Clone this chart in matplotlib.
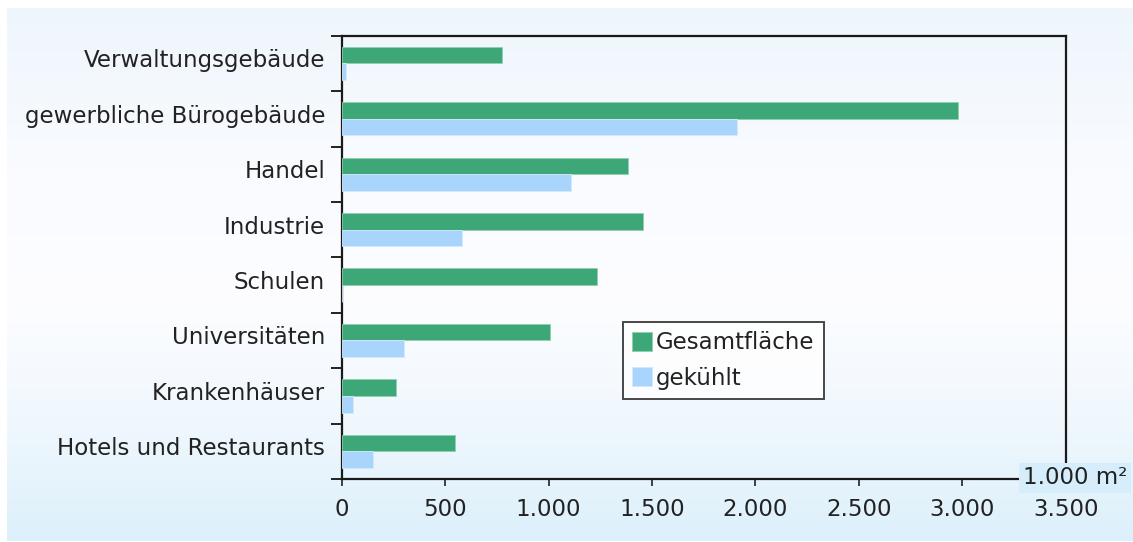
import numpy as np
import matplotlib
matplotlib.use("Agg")
import matplotlib.pyplot as plt
import matplotlib.transforms as mtransforms
from matplotlib.colors import LinearSegmentedColormap

# Building categories and floor areas (in 1.000 m²)
categories = [
    "Verwaltungsgebäude",
    "gewerbliche Bürogebäude",
    "Handel",
    "Industrie",
    "Schulen",
    "Universitäten",
    "Krankenhäuser",
    "Hotels und Restaurants",
]
gesamtflaeche = [773, 2980, 1382, 1458, 1233, 1007, 262, 546]
gekuehlt = [19, 1910, 1107, 580, 0, 303, 53, 153]
series_labels = ["Gesamtfläche", "gekühlt"]
x_ticks = [0, 500, 1000, 1500, 2000, 2500, 3000, 3500]
x_tick_labels = ["0", "500", "1.000", "1.500", "2.000", "2.500", "3.000", "3.500"]
unit_label = "1.000 m²"

GREEN = "#3ea777"
BLUE = "#a9d5fd"
TEXT = "#222222"
FONT = "DejaVu Sans"
FS = 16.5

plt.rcParams["font.family"] = FONT

W, H = 1133, 542
fig = plt.figure(figsize=(W / 100, H / 100), dpi=100)
fig.patch.set_facecolor("white")

# soft vertical gradient panel behind the chart
bg = fig.add_axes([7 / W, 1 / H, (W - 7) / W, (H - 9) / H], zorder=-5)
cmap = LinearSegmentedColormap.from_list(
    "panel",
    [(0.0, "#eef6fc"), (0.3, "#f9fbff"), (0.55, "#fdfdff"), (0.8, "#eef7fd"), (1.0, "#dcf0fb")],
)
grad = np.linspace(0, 1, 256).reshape(-1, 1)
bg.imshow(grad, aspect="auto", cmap=cmap, extent=[0, 1, 1, 0])
bg.set_xlim(0, 1)
bg.set_ylim(1, 0)
bg.axis("off")

left_px, right_px, top_px, bottom_px = 341.7, 1065.7, 35.7, 479.0
ax = fig.add_axes([left_px / W, 1 - bottom_px / H, (right_px - left_px) / W, (bottom_px - top_px) / H])
ax.set_facecolor("none")

y = np.arange(len(categories))
bh = 0.3
ax.barh(y - bh / 2, gesamtflaeche, height=bh, color=GREEN, edgecolor="#8fd0ae",
        linewidth=0.6, label=series_labels[0], zorder=3)
ax.barh(y + bh / 2, gekuehlt, height=bh, color=BLUE, edgecolor="#d2e9fe",
        linewidth=0.6, label=series_labels[1], zorder=3)

ax.set_xlim(0, 3500)
ax.set_ylim(len(categories) - 0.5, -0.5)

ax.set_xticks(x_ticks)
ax.set_xticklabels(x_tick_labels)
ax.set_yticks(y)
ax.set_yticklabels(categories)
ax.set_yticks(np.arange(-0.5, len(categories)), minor=True)

ax.tick_params(axis="x", direction="out", length=5, width=1.2, color=TEXT,
               labelsize=FS, labelcolor=TEXT, pad=9)
ax.tick_params(axis="y", which="major", length=0, labelsize=FS, labelcolor=TEXT, pad=12)
ax.tick_params(axis="y", which="minor", direction="out", length=8, width=1.4, color=TEXT)

# category labels sit slightly above the centre of each bar pair
lift = mtransforms.ScaledTranslation(0, 5 / 100, fig.dpi_scale_trans)
for lbl in ax.get_yticklabels():
    lbl.set_transform(lbl.get_transform() + lift)

for side in ["left", "top", "bottom", "right"]:
    ax.spines[side].set_color("#1a1a1a")
    ax.spines[side].set_linewidth(1.6)

leg = ax.legend(loc="upper left", bbox_to_anchor=((623 - left_px) / (right_px - left_px),
                                                   1 - (322 - top_px) / (bottom_px - top_px)),
                frameon=True, fancybox=False, fontsize=FS, handlelength=0.85,
                handleheight=0.9, handletextpad=0.2, borderpad=0.4,
                labelspacing=0.55, borderaxespad=0)
leg.get_frame().set_edgecolor("#1a1a1a")
leg.get_frame().set_linewidth(1.4)
leg.get_frame().set_facecolor("white")
for t in leg.get_texts():
    t.set_color(TEXT)

fig.text(1075 / W, 1 - 478 / H, unit_label, ha="center", va="center", fontsize=FS,
         color=TEXT, bbox=dict(boxstyle="square,pad=0.15", facecolor="#d6eefc", edgecolor="none"))

fig.savefig("out.png", dpi=100)
